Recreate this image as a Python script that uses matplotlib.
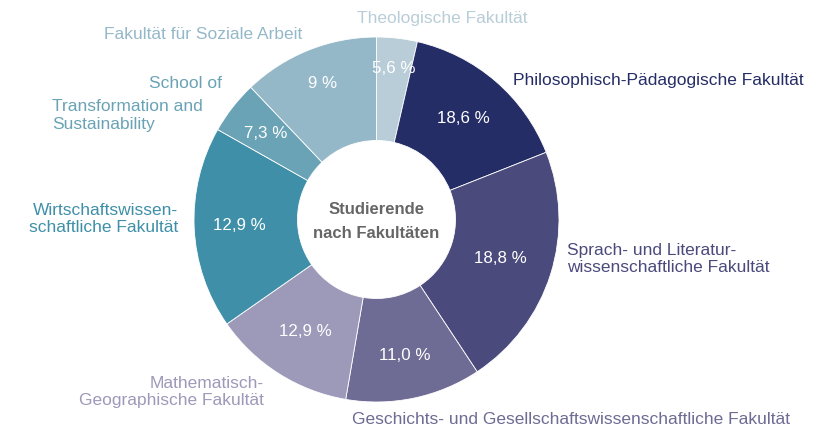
import numpy as np
import matplotlib
matplotlib.use('Agg')
import matplotlib.pyplot as plt
from matplotlib import font_manager

plt.rcParams['font.family'] = ['Liberation Sans', 'DejaVu Sans']

# Faculties, clockwise from the top
faculties = ['Theologische Fakultät',
             'Philosophisch-Pädagogische Fakultät',
             'Sprach- und Literatur-\nwissenschaftliche Fakultät',
             'Geschichts- und Gesellschaftswissenschaftliche Fakultät',
             'Mathematisch-\nGeographische Fakultät',
             'Wirtschaftswissen-\nschaftliche Fakultät',
             'School of\nTransformation and\nSustainability',
             'Fakultät für Soziale Arbeit']
# slice sizes as drawn in the picture (share of the ring, %)
shares = [3.6, 15.4, 21.7, 12.0, 12.6, 17.9, 4.7, 12.1]
# percent labels as printed
pct_labels = ['5,6 %', '18,6 %', '18,8 %', '11,0 %', '12,9 %', '12,9 %', '7,3 %', '9 %']
colors = ['#b9cdd9', '#252d66', '#4a4a7c', '#6e6b94',
          '#9d99b9', '#3f8fa8', '#6aa3b5', '#95b8c8']

W, H = 839, 428
CX, CY, R = 376.5, 219.5, 182.5   # pie centre / radius in pixels


def px(x, y):
    # pixel position -> data units
    return (x - CX) / R, (CY - y) / R


fig = plt.figure(figsize=(W / 100, H / 100), dpi=100)
ax = fig.add_axes([0, 0, 1, 1])

wedges, _ = ax.pie(shares, colors=colors, startangle=90, counterclock=False,
                   radius=1, normalize=True,
                   wedgeprops=dict(width=1 - 79 / R, edgecolor='white', linewidth=0.6))

# pie() resets the limits, so set them afterwards
ax.set_xlim(-CX / R, (W - CX) / R)
ax.set_ylim(-(H - CY) / R, CY / R)
ax.axis('off')

# percent labels inside the ring
label_r = [0.83, 0.73, 0.71, 0.76, 0.73, 0.75, 0.77, 0.80]
for w, txt, r in zip(wedges, pct_labels, label_r):
    ang = np.deg2rad((w.theta1 + w.theta2) / 2)
    ax.text(r * np.cos(ang), r * np.sin(ang), txt, color='white',
            fontsize=12.2, ha='center', va='center')

# outer labels
lab = dict(fontsize=12.5, va='center', linespacing=1.22)
ax.text(*px(442, 18), faculties[0], color=colors[0], ha='center', **lab)
ax.text(*px(513, 80), faculties[1], color=colors[1], ha='left', **lab)
ax.text(*px(567, 259), faculties[2], color=colors[2], ha='left', **lab)
ax.text(*px(352, 420), faculties[3], color=colors[3], ha='left', **lab)
ax.text(*px(264, 392), faculties[4], color=colors[4], ha='right', **lab)
ax.text(*px(178, 219), faculties[5], color=colors[5], ha='right', **lab)
school = faculties[6].split('\n')
ax.text(*px(149, 83), school[0], color=colors[6], ha='left', **lab)
ax.text(*px(52, 115.5), '\n'.join(school[1:]), color=colors[6], ha='left', **lab)
ax.text(*px(302, 34), faculties[7], color=colors[7], ha='right', **lab)

# centre title (narrow bold if available)
names = {f.name for f in font_manager.fontManager.ttflist}
if 'Liberation Sans Narrow' in names:
    tfam, tsize = ['Liberation Sans Narrow', 'DejaVu Sans'], 13
else:
    tfam, tsize = ['Liberation Sans', 'DejaVu Sans'], 12
ax.text(*px(CX, 221.5), 'Studierende\nnach Fakultäten', color='#666666',
        family=tfam, fontweight='bold',
        fontsize=tsize, ha='center', va='center', linespacing=1.7)

fig.savefig('out.png', dpi=100)
